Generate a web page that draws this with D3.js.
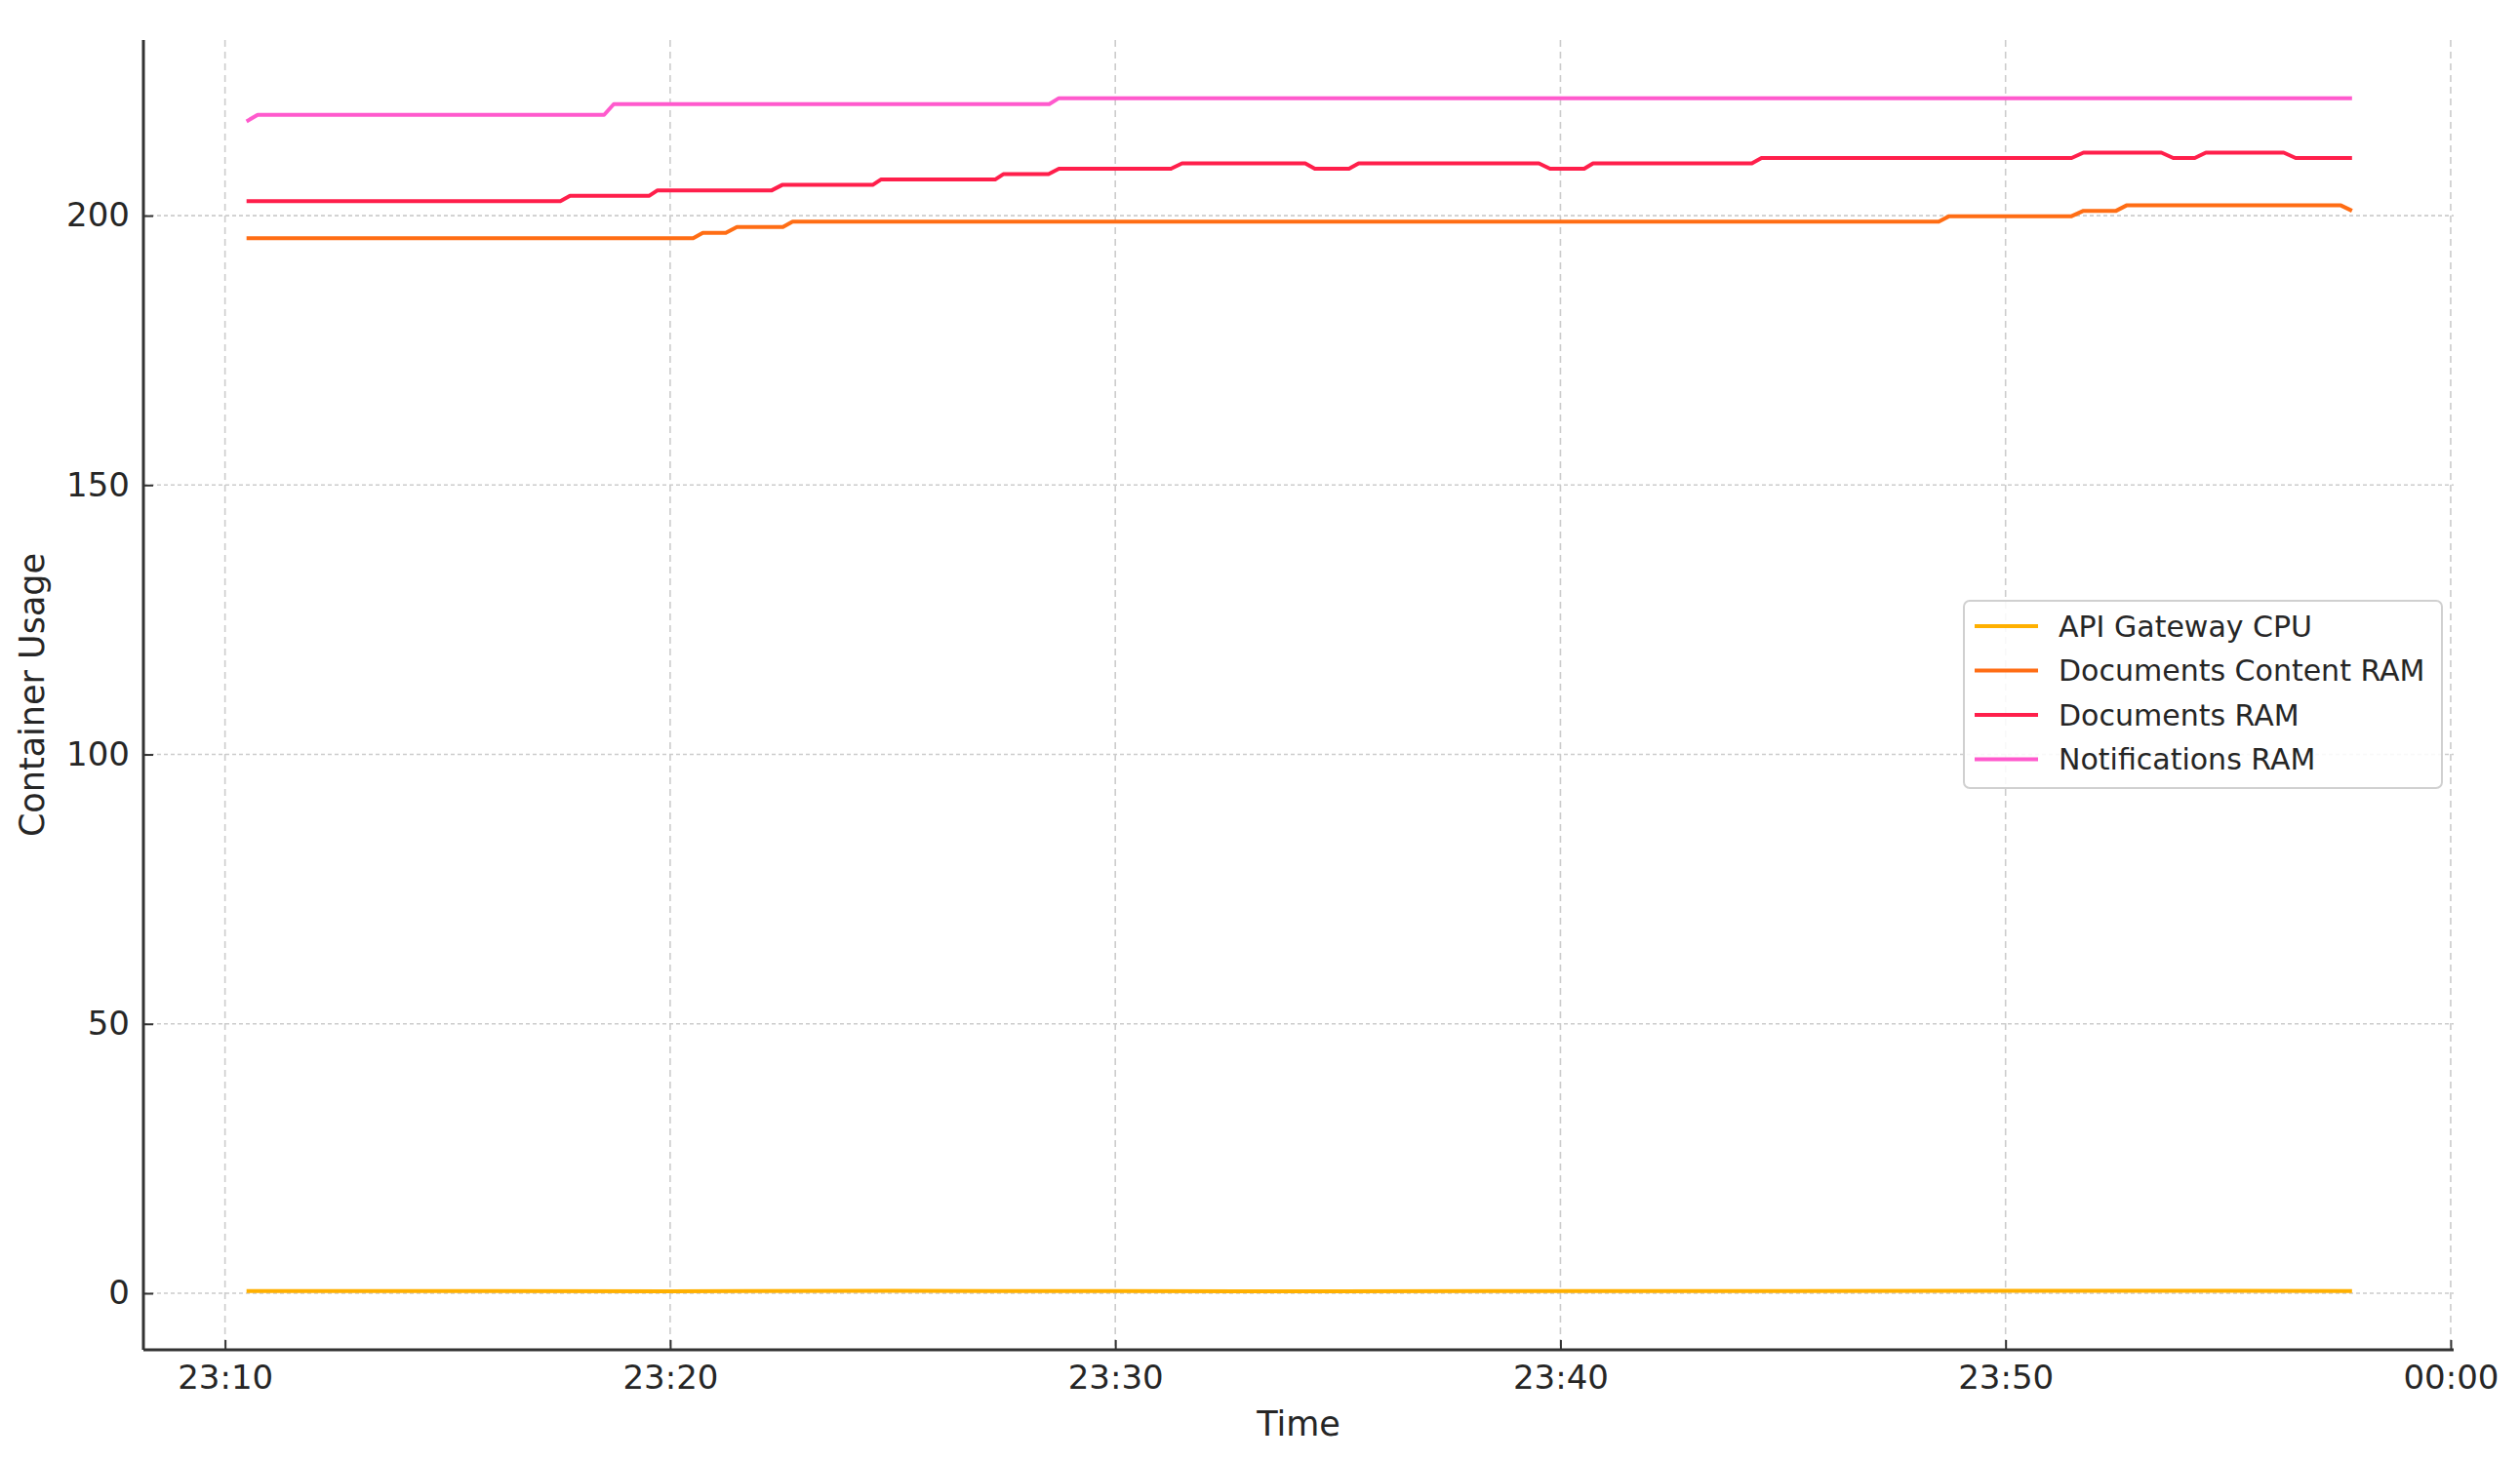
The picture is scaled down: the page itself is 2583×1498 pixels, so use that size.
<!DOCTYPE html>
<html>

<head>
    <meta charset='utf-8'>
    <title>Container Usage</title>
    <script type='text/javascript' src='https://cdn.jsdelivr.net/npm/d3@7'></script>
    <style>
        body { margin: 0; background: #fff; }
        text { font-family: 'DejaVu Sans', sans-serif; fill: #262626; }
    </style>
</head>

<body>
    <svg width='2583' height='1498'></svg>
    <script type='text/javascript'>

        // series names and colours (legend order)
        const seriesNames = ['API Gateway CPU', 'Documents Content RAM', 'Documents RAM', 'Notifications RAM']
        const seriesColors = ['#ffb000', '#ff6d14', '#ff1f4b', '#ff5acd']

        // API Gateway CPU
        const cpuTimes = ['23:10:29', '23:15:00', '23:20:00', '23:25:00', '23:30:00', '23:35:00',
            '23:40:00', '23:45:00', '23:50:00', '23:55:00', '23:57:47']
        const cpuValues = [0.4, 0.42, 0.38, 0.45, 0.4, 0.37, 0.41, 0.39, 0.46, 0.43, 0.4]

        // Documents Content RAM
        const contentTimes = ['23:10:29', '23:20:31', '23:20:44', '23:21:15', '23:21:30', '23:22:32',
            '23:22:45', '23:48:30', '23:48:44', '23:51:29', '23:51:45', '23:52:29', '23:52:43',
            '23:57:32', '23:57:47']
        const contentValues = [195.8, 195.8, 196.8, 196.8, 197.9, 197.9, 198.9, 198.9, 199.9,
            199.9, 200.9, 200.9, 201.9, 201.9, 200.9]

        // Documents RAM
        const docsTimes = ['23:10:29', '23:17:32', '23:17:45', '23:19:32', '23:19:43', '23:22:17',
            '23:22:31', '23:24:33', '23:24:44', '23:27:18', '23:27:29', '23:28:30', '23:28:44',
            '23:31:15', '23:31:30', '23:34:16', '23:34:29', '23:35:15', '23:35:28', '23:39:31',
            '23:39:46', '23:40:32', '23:40:44', '23:44:18', '23:44:31', '23:51:29', '23:51:45',
            '23:53:30', '23:53:46', '23:54:15', '23:54:30', '23:56:15', '23:56:31', '23:57:47']
        const docsValues = [202.7, 202.7, 203.7, 203.7, 204.7, 204.7, 205.7, 205.7, 206.7, 206.7,
            207.7, 207.7, 208.7, 208.7, 209.7, 209.7, 208.7, 208.7, 209.7, 209.7, 208.7, 208.7,
            209.7, 209.7, 210.7, 210.7, 211.7, 211.7, 210.7, 210.7, 211.7, 211.7, 210.7, 210.7]

        // Notifications RAM
        const notifTimes = ['23:10:29', '23:10:44', '23:18:31', '23:18:44', '23:28:31', '23:28:44', '23:57:47']
        const notifValues = [217.5, 218.7, 218.7, 220.7, 220.7, 221.8, 221.8]

        const yTicks = [0, 50, 100, 150, 200]
        const xTickLabels = ['23:10', '23:20', '23:30', '23:40', '23:50', '00:00']

        const svg = d3.select('svg')
        const margin = { top: 41, left: 147, bottom: 114, right: 68 }
        const width = parseInt(svg.attr('width'))
        const height = parseInt(svg.attr('height'))

        const parseT = s => {
            const [h, m, sec] = s.split(':').map(Number)
            // times after midnight belong to the next day
            return new Date(2024, 0, h < 12 ? 2 : 1, h, m, sec || 0)
        }

        const x = d3.scaleTime()
            .domain([parseT('23:08:10'), parseT('00:00:04')])
            .range([margin.left, width - margin.right])
        const y = d3.scaleLinear()
            .domain([-10.5, 232.6])
            .range([height - margin.bottom, margin.top])

        const series = [
            [cpuTimes, cpuValues],
            [contentTimes, contentValues],
            [docsTimes, docsValues],
            [notifTimes, notifValues]
        ].map(([ts, vs], i) => ({
            name: seriesNames[i],
            color: seriesColors[i],
            points: ts.map((t, j) => ({ t: parseT(t), v: vs[j] }))
        }))

        const x0 = margin.left, x1 = width - margin.right
        const y0 = height - margin.bottom, y1 = margin.top

        // grid
        const xTickDates = xTickLabels.map(parseT)
        svg.append('g').selectAll('line').data(xTickDates).enter().append('line')
            .attr('x1', d => x(d)).attr('x2', d => x(d))
            .attr('y1', y1).attr('y2', y0)
            .attr('stroke', '#cccccc').attr('stroke-width', 1.6).attr('stroke-dasharray', '7,5')
        svg.append('g').selectAll('line').data(yTicks).enter().append('line')
            .attr('x1', x0).attr('x2', x1)
            .attr('y1', d => y(d)).attr('y2', d => y(d))
            .attr('stroke', '#cccccc').attr('stroke-width', 1.6).attr('stroke-dasharray', '4,3')

        // lines
        const line = d3.line().x(d => x(d.t)).y(d => y(d.v))
        svg.append('g').selectAll('path').data(series).enter().append('path')
            .attr('d', d => line(d.points))
            .attr('fill', 'none')
            .attr('stroke', d => d.color)
            .attr('stroke-width', 4)
            .attr('stroke-linejoin', 'round')

        // axes
        const xAxis = d3.axisBottom(x).tickValues(xTickDates)
            .tickFormat(d3.timeFormat('%H:%M')).tickSizeInner(-10).tickSizeOuter(0).tickPadding(16)
        const gx = svg.append('g').attr('transform', `translate(0,${y0})`).call(xAxis)
        const yAxis = d3.axisLeft(y).tickValues(yTicks).tickSizeInner(-10).tickSizeOuter(0).tickPadding(14)
        const gy = svg.append('g').attr('transform', `translate(${x0},0)`).call(yAxis)

        gx.select('.domain').attr('d', `M${x0},0H${x1}`)
        gy.select('.domain').attr('d', `M0,${y1}V${y0}`)
        for (const g of [gx, gy]) {
            g.select('.domain').attr('stroke', '#333').attr('stroke-width', 3)
            g.selectAll('.tick line').attr('stroke', '#333').attr('stroke-width', 2)
            g.selectAll('.tick text').attr('font-size', 34).attr('fill', '#262626')
                .attr('font-family', "'DejaVu Sans', sans-serif")
        }

        // axis titles
        svg.append('text').attr('x', (x0 + x1) / 2).attr('y', 1472)
            .attr('text-anchor', 'middle').attr('font-size', 35).text('Time')
        svg.append('text').attr('transform', `translate(33,${(y0 + y1) / 2}) rotate(-90)`)
            .attr('text-anchor', 'middle').attr('dominant-baseline', 'central')
            .attr('font-size', 35).text('Container Usage')

        // legend
        const legend = svg.append('g').attr('transform', 'translate(2013,616)')
        legend.append('rect').attr('width', 490).attr('height', 192).attr('rx', 6)
            .attr('fill', 'rgba(255,255,255,0.85)').attr('stroke', '#d0d0d0').attr('stroke-width', 2)
        const rows = legend.selectAll('g.row').data(series).enter().append('g')
            .attr('class', 'row').attr('transform', (d, i) => `translate(0,${26 + i * 45.5})`)
        rows.append('line').attr('x1', 11).attr('x2', 76).attr('y1', 0).attr('y2', 0)
            .attr('stroke', d => d.color).attr('stroke-width', 4)
        rows.append('text').attr('x', 97).attr('y', 0).attr('dominant-baseline', 'central')
            .attr('font-size', 30).text(d => d.name)
    </script>
</body>

</html>
